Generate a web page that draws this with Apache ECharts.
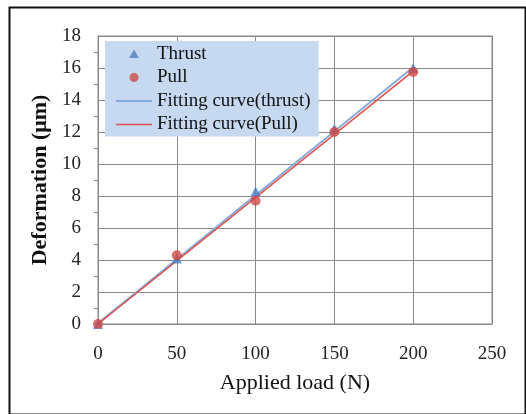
<!DOCTYPE html>
<html>
<head>
<meta charset="utf-8">
<script src="https://cdn.jsdelivr.net/npm/echarts@6/dist/echarts.min.js"></script>
<style>
  html, body { margin: 0; padding: 0; background: #fff; }
  #chart { width: 526px; height: 414px; }
</style>
</head>
<body>
<div id="chart"></div>
<script>
// Applied load (N) and measured deformation (µm)
const loads = [0, 50, 100, 150, 200];
const thrust = [0, 4.1, 8.3, 12.2, 16.0];
const pull = [0, 4.3, 7.7, 12.0, 15.75];
// Linear fits, evaluated at the ends of the load range
const fitLoads = [0, 200];
const fitThrust = [0.05, 16.05];
const fitPull = [0, 15.8];

const serif = '"Liberation Serif", "DejaVu Serif", serif';

const pairs = (xs, ys) => xs.map((x, i) => [x, ys[i]]);

// Legend icons drawn inside a 36x14 box; the corner dots fix the box size
const box = 'M0,0 L0.01,0 L0.01,0.01 Z M36,14 L35.99,14 L35.99,13.99 Z ';
const iconTriangle = 'path://' + box + 'M18,2.5 L23,11 L13,11 Z';
const iconCircle = 'path://' + box + 'M22.5,7 A4.5,4.5 0 1 1 13.5,7 A4.5,4.5 0 1 1 22.5,7 Z';
const iconLine = 'path://' + box + 'M0,6.2 L36,6.2 L36,7.8 L0,7.8 Z';

const chart = echarts.init(document.getElementById('chart'));
chart.setOption({
  animation: false,
  backgroundColor: '#fff',
  grid: { left: 98, right: 34, top: 36, bottom: 90, show: true, borderColor: '#888', borderWidth: 1 },
  graphic: [{
    type: 'rect', left: 7, top: 5,
    shape: { width: 516, height: 407 },
    style: { fill: 'none', stroke: '#111', lineWidth: 2 },
    silent: true
  }],
  legend: {
    orient: 'vertical', left: 105, top: 41,
    backgroundColor: '#c6d9f0',
    padding: [3, 8, 2, 11],
    itemWidth: 36, itemHeight: 14, itemGap: 3.5,
    textStyle: { fontFamily: serif, fontSize: 19, lineHeight: 20, color: '#111' },
    data: [
      { name: 'Thrust', icon: iconTriangle },
      { name: 'Pull', icon: iconCircle },
      { name: 'Fitting curve(thrust)', icon: iconLine },
      { name: 'Fitting curve(Pull)', icon: iconLine }
    ]
  },
  xAxis: {
    type: 'value', min: 0, max: 250, interval: 50,
    name: 'Applied load (N)', nameLocation: 'middle', nameGap: 48,
    nameTextStyle: { fontFamily: serif, fontSize: 22, color: '#111' },
    axisLine: { show: true, lineStyle: { color: '#888' } },
    axisTick: { show: false },
    axisLabel: { fontFamily: serif, fontSize: 19, color: '#222', margin: 21 },
    splitLine: { show: true, lineStyle: { color: '#888', width: 1 } }
  },
  yAxis: {
    type: 'value', min: 0, max: 18, interval: 2,
    name: 'Deformation (μm)', nameLocation: 'middle', nameGap: 46,
    nameTextStyle: { fontFamily: serif, fontSize: 22, fontWeight: 'bold', color: '#111' },
    axisLine: { show: true, lineStyle: { color: '#888' } },
    axisTick: { show: false },
    minorTick: { show: true, splitNumber: 2, length: 4, lineStyle: { color: '#888' } },
    axisLabel: { fontFamily: serif, fontSize: 19, color: '#222', margin: 17 },
    splitLine: { show: true, lineStyle: { color: '#888', width: 1 } }
  },
  series: [
    {
      name: 'Fitting curve(thrust)', type: 'line', data: pairs(fitLoads, fitThrust),
      showSymbol: false, symbol: 'none', z: 2,
      lineStyle: { color: '#86abdb', width: 2 }, itemStyle: { color: '#6f9ad3' }
    },
    {
      name: 'Fitting curve(Pull)', type: 'line', data: pairs(fitLoads, fitPull),
      showSymbol: false, symbol: 'none', z: 3,
      lineStyle: { color: '#e0504a', width: 1.6 }, itemStyle: { color: '#e0504a' }
    },
    {
      name: 'Thrust', type: 'scatter', data: pairs(loads, thrust),
      symbol: 'triangle', symbolSize: 10, z: 4,
      itemStyle: { color: '#4a7ec4' }
    },
    {
      name: 'Pull', type: 'scatter', data: pairs(loads, pull),
      symbol: 'circle', symbolSize: 10, z: 5,
      itemStyle: { color: '#d04a45' }
    }
  ]
});
</script>
</body>
</html>
